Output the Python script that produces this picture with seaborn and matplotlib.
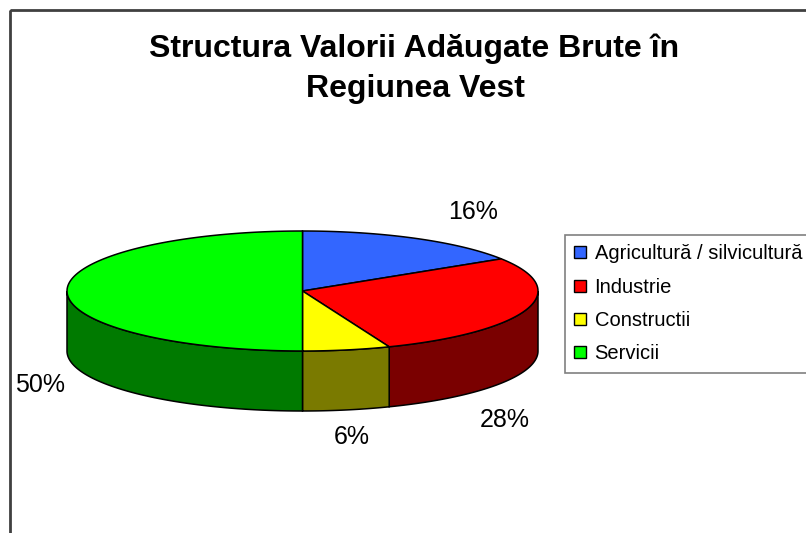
import numpy as np
import matplotlib
matplotlib.use("Agg")
import matplotlib.pyplot as plt
from matplotlib.patches import Polygon, Rectangle, Patch
from matplotlib.colors import to_rgb
import seaborn as sns

# data
categories = ["Agricultură / silvicultură", "Industrie", "Constructii", "Servicii"]
shares = [16, 28, 6, 50]
top_colors = ["#3366FF", "#FF0000", "#FFFF00", "#00FF00"]

title_lines = ["Structura Valorii Adăugate Brute în", "Regiunea Vest"]

sns.set_theme(style="white")
plt.rcParams["font.family"] = ["Liberation Sans", "DejaVu Sans"]
plt.rcParams["text.color"] = "black"

# layout (pixel coords, y down)
W, H = 806, 533
cx, cy = 302.5, 291.0
rx, ry = 235.5, 60.0
depth = 60.0
label_pos = [(473, 212), (505, 420), (352, 437), (40, 385)]

fig = plt.figure(figsize=(W / 100, H / 100), dpi=100)
ax = fig.add_axes([0, 0, 1, 1])
ax.set_xlim(0, W)
ax.set_ylim(H, 0)
ax.axis("off")

# chart area border (only top/left visible)
ax.add_patch(Rectangle((10, 10), 2000, 2000, fill=False, edgecolor="#404040", lw=2))


def ellipse_pts(a0, a1, dy=0.0, n=120):
    t = np.radians(np.linspace(a0, a1, n))
    return np.column_stack([cx + rx * np.sin(t), cy - ry * np.cos(t) + dy])


def side_color(c, f=0.48):
    r, g, b = to_rgb(c)
    return (r * f, g * f, b * f)


bounds = np.cumsum([0] + shares) / sum(shares) * 360.0

# sides (front half: 90..270 deg clockwise from top)
for i, col in enumerate(top_colors):
    a0, a1 = max(bounds[i], 90), min(bounds[i + 1], 270)
    if a1 <= a0:
        continue
    top = ellipse_pts(a0, a1)
    bot = ellipse_pts(a0, a1, dy=depth)[::-1]
    ax.add_patch(Polygon(np.vstack([top, bot]), closed=True,
                         facecolor=side_color(col), edgecolor="black", lw=1.1))

# top faces
for i, col in enumerate(top_colors):
    arc = ellipse_pts(bounds[i], bounds[i + 1])
    pts = np.vstack([[cx, cy], arc])
    ax.add_patch(Polygon(pts, closed=True, facecolor=col, edgecolor="black", lw=1.1))

# percentage labels
for (lx, ly), v in zip(label_pos, shares):
    ax.text(lx, ly, f"{v}%", fontsize=18, ha="center", va="center", color="black")

# title
ax.text(414, 57, title_lines[0], fontsize=23, fontweight="bold", ha="center",
        va="baseline", color="black")
ax.text(415, 97, title_lines[1], fontsize=23, fontweight="bold", ha="center",
        va="baseline", color="black")

# legend
handles = [Patch(facecolor=c, edgecolor="black", lw=1) for c in top_colors]
leg = ax.legend(handles, categories, loc="upper left",
                bbox_to_anchor=(565 / W, 1 - 235 / H), bbox_transform=fig.transFigure,
                fontsize=14.5, frameon=True, fancybox=False, borderaxespad=0,
                handlelength=0.55, handleheight=0.55, handletextpad=0.45,
                labelspacing=0.71, borderpad=0.47)
leg.get_frame().set_edgecolor("#606060")
leg.get_frame().set_linewidth(1.2)
for t in leg.get_texts():
    t.set_color("black")

fig.savefig("out.png", dpi=100)
